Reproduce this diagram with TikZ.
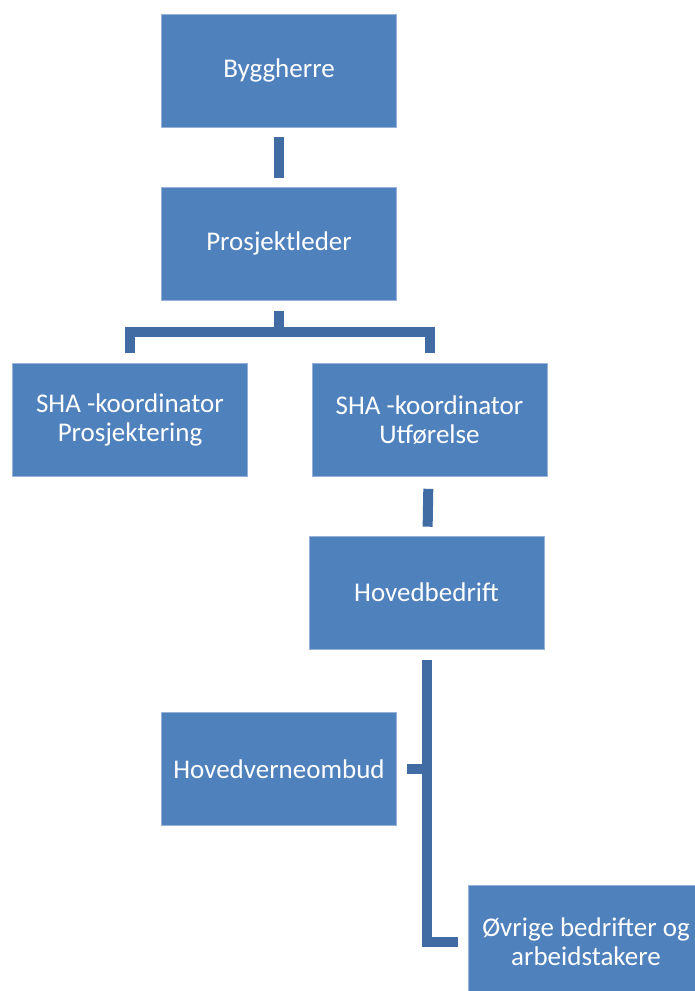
\documentclass[tikz,border=0pt]{standalone}
\usepackage{fontspec}
\setmainfont{Carlito}
\definecolor{boxblue}{RGB}{79,129,189}
\definecolor{lineblue}{RGB}{64,107,163}

\begin{document}
\begin{tikzpicture}[x=1pt, y=-1pt,
	box/.style={fill=boxblue, draw=boxblue!60!white, line width=0.6pt, text=white,
		minimum width=235pt, minimum height=113pt, inner sep=0pt, align=center,
		font=\fontsize{27}{29}\selectfont},
	conn/.style={lineblue, line width=10pt}]
	\useasboundingbox (0,0) rectangle (694,991);

	\node [box] (bygg) at (279,70.5) {Byggherre};
	\node [box] (prosj) at (279,243.5) {Prosjektleder};
	\node [box] (shaP) at (130,420) {SHA -koordinator\\Prosjektering};
	\node [box] (shaU) at (429.5,420) {SHA -koordinator\\Utførelse};
	\node [box] (hoved) at (426.5,592.5) {Hovedbedrift};
	\node [box] (hvo) at (279,769) {Hovedverneombud};
	\node [box] (ovrige) at (586,941.5) {Øvrige bedrifter og\\arbeidstakere};

	\coordinate (split) at (279,332);

	\draw [conn, shorten <=10pt, shorten >=9pt] (bygg) -- (prosj);

	\draw [conn, shorten <=11pt] (prosj) -- (split);
	\draw [conn, shorten <=10pt, shorten >=10pt] (shaP.north) |- (split) -| (shaU.north);

	\draw [conn, shorten <=12pt, shorten >=9pt] (shaU) -- (hoved);

	\draw [conn, shorten <=11pt, shorten >=10pt] (hoved.south) |- (ovrige.west);
	\draw [conn, shorten <=10pt] (hvo.east) -- (hvo.east -| hoved.south);
\end{tikzpicture}
\end{document}
